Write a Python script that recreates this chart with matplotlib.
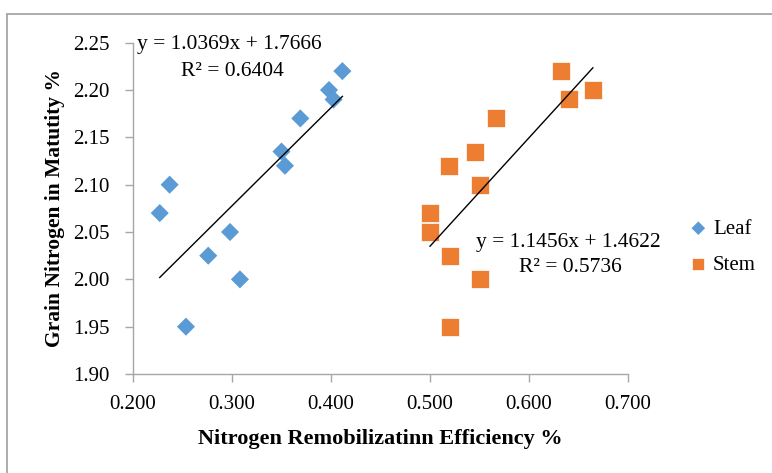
import matplotlib

matplotlib.use("Agg")
import matplotlib.pyplot as plt
import numpy as np
from matplotlib.patches import Rectangle

# Leaf series
leaf_x = [0.227, 0.237, 0.2535, 0.276, 0.298, 0.308, 0.350, 0.3535, 0.369, 0.398, 0.4026, 0.4115]
leaf_y = [2.070, 2.100, 1.950, 2.025, 2.050, 2.000, 2.135, 2.120, 2.170, 2.200, 2.190, 2.220]

# Stem series
stem_x = [0.632, 0.6645, 0.640, 0.567, 0.545, 0.519, 0.550, 0.500, 0.500, 0.520, 0.550, 0.520]
stem_y = [2.220, 2.200, 2.190, 2.170, 2.135, 2.120, 2.100, 2.070, 2.050, 2.025, 2.000, 1.950]

# trendline coefficients shown on the chart
leaf_fit = (1.0369, 1.7666)
stem_fit = (1.1456, 1.4622)
leaf_eq = "y = 1.0369x + 1.7666"
leaf_r2 = "R² = 0.6404"
stem_eq = "y = 1.1456x + 1.4622"
stem_r2 = "R² = 0.5736"

x_ticks = [0.2, 0.3, 0.4, 0.5, 0.6, 0.7]
y_ticks = [1.90, 1.95, 2.00, 2.05, 2.10, 2.15, 2.20, 2.25]

LEAF_COLOR = "#5B9BD5"
STEM_COLOR = "#ED7D31"
AXIS_COLOR = "#A6A6A6"

plt.rcParams.update(
    {
        "font.family": ["Liberation Serif", "DejaVu Serif"],
        "font.size": 15,
    }
)

fig = plt.figure(figsize=(7.72, 4.73), dpi=100)
ax = fig.add_axes([133 / 772, 1 - 374 / 473, 495 / 772, 331.3 / 473])

# outer chart border (only top and left edges fall inside the picture)
fig.patches.append(
    Rectangle((7 / 772, -1.0), 2.0, 2 - 14 / 473, transform=fig.transFigure,
              facecolor="none", edgecolor=AXIS_COLOR, linewidth=1.3, clip_on=False)
)

ax.scatter(leaf_x, leaf_y, marker="D", s=85, color=LEAF_COLOR, edgecolors="none",
           label="Leaf", zorder=3)
ax.scatter(stem_x, stem_y, marker="s", s=150, color=STEM_COLOR, edgecolors="white",
           linewidths=0.5, label="Stem", zorder=3)

for xs, (m, b) in ((leaf_x, leaf_fit), (stem_x, stem_fit)):
    xx = np.array([min(xs), max(xs)])
    ax.plot(xx, m * xx + b, color="black", linewidth=1.0, zorder=4)


def px(x, y):
    # pixel position in the picture -> axes fraction
    return (x - 133) / 495, (374 - y) / 331.3


ax.text(*px(137, 45), leaf_eq, transform=ax.transAxes, fontsize=15.5, va="center", ha="left")
ax.text(*px(181, 72), leaf_r2, transform=ax.transAxes, fontsize=15.5, va="center", ha="left")
ax.text(*px(476, 243), stem_eq, transform=ax.transAxes, fontsize=15.5, va="center", ha="left")
ax.text(*px(519, 268), stem_r2, transform=ax.transAxes, fontsize=15.5, va="center", ha="left")

ax.set_xlim(0.2, 0.7)
ax.set_ylim(1.90, 2.25)
ax.set_xticks(x_ticks)
ax.set_yticks(y_ticks)
ax.set_xticklabels([f"{v:.3f}" for v in x_ticks])
ax.set_yticklabels([f"{v:.2f}" for v in y_ticks])

for side in ("top", "right"):
    ax.spines[side].set_visible(False)
for side in ("left", "bottom"):
    ax.spines[side].set_color(AXIS_COLOR)
    ax.spines[side].set_linewidth(1.0)
ax.tick_params(axis="both", direction="out", length=6, width=1.0, color=AXIS_COLOR,
               labelsize=15, pad=9)
ax.tick_params(axis="y", pad=11)

ax.set_xlabel("Nitrogen Remobilizatinn Efficiency %", fontweight="bold", fontsize=16, labelpad=11)
ax.set_ylabel("Grain Nitrogen in Matutity %", fontweight="bold", fontsize=15.5, labelpad=6)

fig.legend(loc="center left", bbox_to_anchor=(690 / 772, 1 - 247 / 473), frameon=False,
           fontsize=15, handlelength=0.8, handletextpad=0.3, labelspacing=0.8,
           borderaxespad=0, borderpad=0, markerscale=0.75)

fig.savefig("out.png", dpi=100)
